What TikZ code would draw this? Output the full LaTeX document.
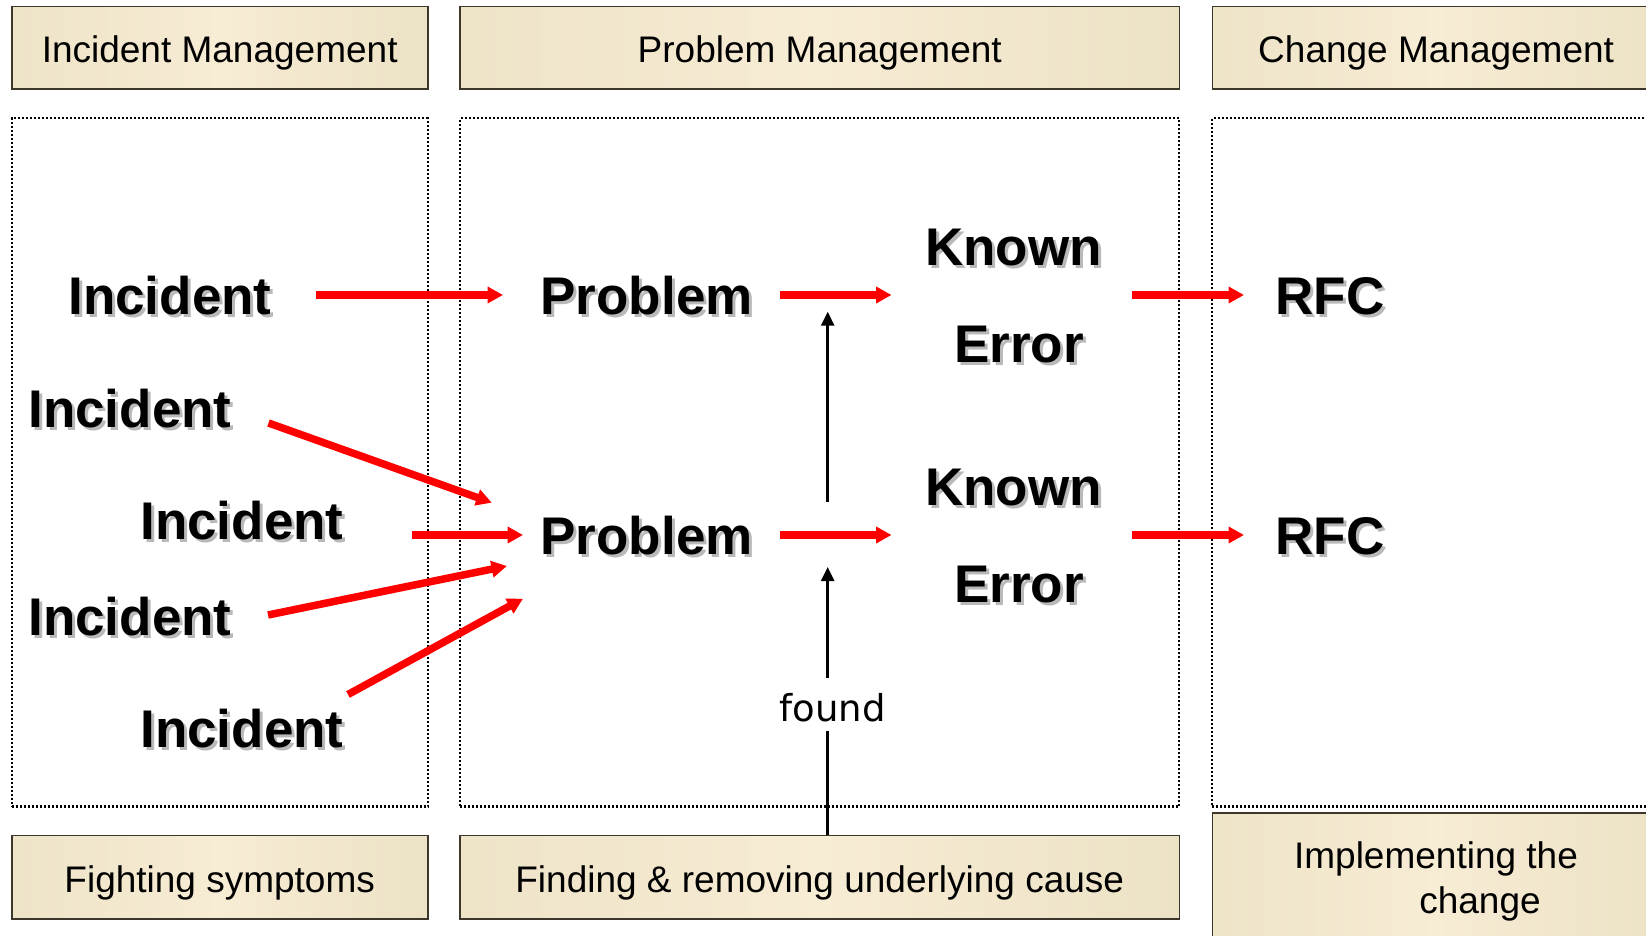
\documentclass[tikz,border=0pt]{standalone}
\usepackage{fontspec}
\setmainfont{Liberation Sans}
\newfontfamily\foundfont{DejaVu Sans}
\usetikzlibrary{arrows.meta,fadings}

\definecolor{tanC}{RGB}{204,190,148}
\definecolor{creamC}{RGB}{234,224,194}
\definecolor{creamL}{RGB}{247,236,212}
\definecolor{edgeC}{RGB}{60,55,42}
\definecolor{shadowC}{RGB}{185,185,185}

% beige panel: light centre, tan sides, darker top and bottom bands
\pgfdeclarehorizontalshading{panelh}{100bp}{color(0bp)=(tanC); color(3bp)=(tanC); color(14bp)=(creamC); color(50bp)=(creamL); color(80bp)=(creamC); color(94bp)=(tanC); color(100bp)=(tanC)}
\pgfdeclareverticalshading{panelvmask}{100bp}{color(0bp)=(white); color(18bp)=(black); color(82bp)=(black); color(100bp)=(white)}
\pgfdeclarefading{panelvfade}{\pgfuseshading{panelvmask}}

% bold word with a soft grey drop shadow
\newcommand{\shd}[1]{\makebox[0pt][l]{\kern3pt\raisebox{-3pt}{\color{shadowC}#1}}#1}

\begin{document}
\begin{tikzpicture}[x=1pt,y=-1pt,
  panel/.style={rectangle, draw=edgeC, line width=1.6pt, shade, shading=panelh,
    path picture={\fill[tanC, opacity=0.9, path fading=panelvfade]
      (path picture bounding box.south west) rectangle (path picture bounding box.north east);},
    font=\fontsize{37}{45}\selectfont, inner sep=0pt, text height=31pt, text depth=1pt},
  plaintxt/.style={font=\fontsize{37}{45}\selectfont, inner sep=0pt},
  dotframe/.style={draw=black, line width=2.2pt, dash pattern=on 2pt off 2pt, inner sep=0pt},
  big/.style={font=\fontsize{53}{60}\selectfont\bfseries, anchor=base, inner sep=0pt},
  foundtxt/.style={font=\foundfont\fontsize{37}{45}\selectfont, inner sep=0pt},
  redarrow/.style={draw=red, line width=7.5pt, -{Triangle[length=15.5pt,width=16pt]}},
  blackline/.style={draw=black, line width=2.5pt},
  blackarrow/.style={blackline, -{Triangle[length=14pt,width=13pt]}}
]
\fill[white] (0,0) rectangle (1646,936);
\clip (0,0) rectangle (1646,936);
\useasboundingbox (0,0) rectangle (1646,936);

% column headers
\node[panel, minimum width=416pt, minimum height=82.6pt] (hInc) at (219.7,48) {Incident Management};
\node[panel, minimum width=719.1pt, minimum height=82.6pt] (hProb) at (819.75,48) {Problem Management};
\node[panel, minimum width=447.7pt, minimum height=82.6pt] (hChg) at (1436.15,48) {Change Management};

% dotted column frames
\node[dotframe, minimum width=416pt, minimum height=688.2pt] (fInc) at (219.7,462.4) {};
\node[dotframe, minimum width=719.1pt, minimum height=688.2pt] (fProb) at (819.75,462.4) {};
\node[dotframe, minimum width=447.7pt, minimum height=688.2pt] (fChg) at (1436.15,462.4) {};

% column footers
\node[panel, minimum width=416pt, minimum height=83.3pt] (bFight) at (219.7,877.3) {Fighting symptoms};
\node[panel, minimum width=719.1pt, minimum height=83.3pt] (bFind) at (819.75,877.3) {Finding \& removing underlying cause};
\node[panel, minimum width=447.7pt, minimum height=136.7pt] (bImpl) at (1436.15,881.6) {};
\node[plaintxt, anchor=base] (tImplA) at (1436,868.5) {Implementing the};
\node[plaintxt, anchor=base] (tImplB) at (1480,913.6) {change};

% flow words
\node[big] (inc1) at (170,314) {\shd{Incident}};
\node[big] (prob1) at (646.6,314) {\shd{Problem}};
\node[big] (known1) at (1013.5,265) {\shd{Known}};
\node[big] (err1) at (1019,362.5) {\shd{Error}};
\node[big] (rfc1) at (1330,314) {\shd{RFC}};
\node[big] (inc2) at (130,427) {\shd{Incident}};
\node[big] (inc3) at (242,539.5) {\shd{Incident}};
\node[big] (prob2) at (646.6,554) {\shd{Problem}};
\node[big] (known2) at (1013.5,505) {\shd{Known}};
\node[big] (err2) at (1019,602) {\shd{Error}};
\node[big] (rfc2) at (1330,554) {\shd{RFC}};
\node[big] (inc4) at (130,635) {\shd{Incident}};
\node[big] (inc5) at (242,747) {\shd{Incident}};
\node[foundtxt, anchor=base] (found) at (832.5,721.7) {found};

% red flow arrows
\coordinate (a1s) at (316,295);   \coordinate (a1e) at (503,295);
\coordinate (a2s) at (780,295);   \coordinate (a2e) at (891.5,295);
\coordinate (a3s) at (1132,295);  \coordinate (a3e) at (1244,295);
\coordinate (a4s) at (780,535);   \coordinate (a4e) at (891.5,535);
\coordinate (a5s) at (1132,535);  \coordinate (a5e) at (1244,535);
\coordinate (a6s) at (268.5,423); \coordinate (a6e) at (491.8,502.7);
\coordinate (a7s) at (411.8,535); \coordinate (a7e) at (523,535);
\coordinate (a8s) at (268,615);   \coordinate (a8e) at (507,566);
\coordinate (a9s) at (348,694.5); \coordinate (a9e) at (523,598.7);
\foreach \k in {1,...,9} \draw[redarrow] (a\k s) -- (a\k e);

% black arrows: root cause found
\coordinate (upTail) at (827.7,502);
\coordinate (upTip) at (827.7,311.7);
\draw[blackarrow] (upTail) -- (upTip);
\coordinate (lowTip) at (827.7,567);
\coordinate (fAbove) at (827.7,678);
\coordinate (fBelow) at (827.7,731);
\draw[blackline] (bFind.north -| fBelow) -- (fBelow);
\draw[blackarrow] (fAbove) -- (lowTip);
\end{tikzpicture}
\end{document}
